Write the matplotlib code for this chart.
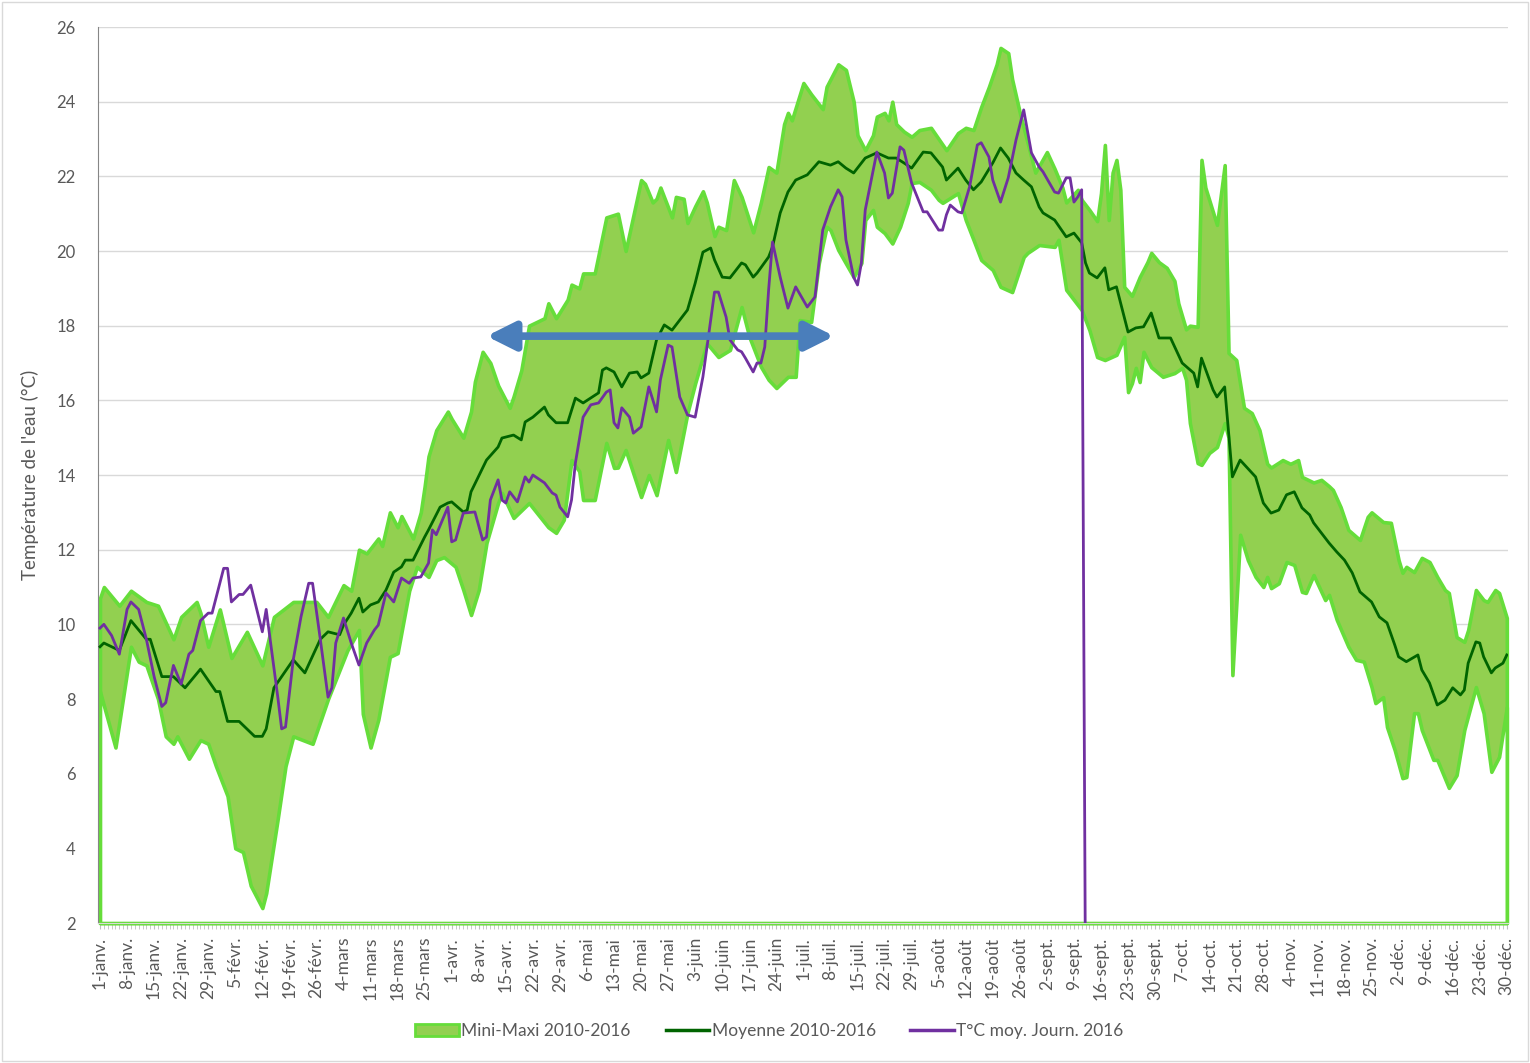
import matplotlib
matplotlib.use("Agg")
import matplotlib.pyplot as plt
from matplotlib.patches import Patch, Rectangle, FancyArrowPatch
from matplotlib.lines import Line2D
from matplotlib.ticker import MultipleLocator

# day of year (0 = 1 janv. 2016), temperature in °C
max_pts = [
    (0, 10.7), (1, 11.0), (5, 10.5), (8, 10.9), (12, 10.6), (15, 10.5), (19, 9.6), (21, 10.2),
    (25, 10.6), (26, 10.3), (28, 9.4), (31, 10.4), (34, 9.1), (38, 9.8), (42, 8.9), (45, 10.2),
    (50, 10.6), (56, 10.6), (59, 10.2), (63, 11.05), (65, 10.9), (67, 12.0), (69, 11.9), (72, 12.3),
    (73, 12.1), (75, 13.0), (77, 12.6), (78, 12.9), (81, 12.3), (83, 13.0), (84, 13.7), (85, 14.5),
    (87, 15.2), (90, 15.7), (91, 15.5), (94, 15.0), (96, 15.7), (97, 16.5), (99, 17.3), (101, 17.0),
    (103, 16.4), (106, 15.8), (107, 16.1), (109, 16.8), (111, 18.0), (113, 18.1), (115, 18.2),
    (116, 18.6), (118, 18.2), (121, 18.7), (122, 19.1), (124, 19.0), (125, 19.4), (128, 19.4),
    (131, 20.9), (134, 21.0), (136, 20.0), (140, 21.9), (141, 21.8), (143, 21.3), (144, 21.4),
    (145, 21.7), (148, 20.9), (149, 21.45), (151, 21.4), (152, 20.75), (154, 21.2), (156, 21.6),
    (157, 21.3), (159, 20.4), (160, 20.65), (162, 20.56), (164, 21.9), (166, 21.45), (169, 20.5),
    (171, 21.3), (173, 22.25), (175, 22.1), (177, 23.4), (178, 23.7), (179, 23.5), (182, 24.5),
    (184, 24.2), (187, 23.8), (188, 24.4), (191, 25.0), (193, 24.85), (195, 24.0), (196, 23.1),
    (198, 22.7), (200, 23.1), (201, 23.6), (203, 23.7), (204, 23.5), (205, 24.0), (206, 23.4),
    (208, 23.2), (210, 23.06), (212, 23.24), (215, 23.3), (217, 23.0), (219, 22.7), (222, 23.16),
    (224, 23.3), (226, 23.24), (228, 23.86), (230, 24.4), (232, 25.0), (233, 25.44), (235, 25.3),
    (236, 24.6), (238, 23.7), (240, 22.9), (242, 22.1), (245, 22.65), (247, 22.2), (249, 21.7),
    (250, 21.3), (253, 21.64), (254, 21.37), (256, 21.1), (258, 20.8), (259, 21.55), (260, 22.84),
    (261, 20.83), (262, 22.1), (263, 22.44), (264, 21.64), (265, 19.04), (267, 18.8), (269, 19.3),
    (271, 19.7), (272, 19.95), (274, 19.7), (276, 19.55), (278, 19.2), (279, 18.6), (281, 17.9),
    (282, 18.0), (284, 17.97), (285, 22.44), (286, 21.7), (289, 20.7), (291, 22.3), (292, 17.27),
    (294, 17.08), (296, 15.8), (298, 15.66), (300, 15.2), (302, 14.3), (303, 14.2), (306, 14.4),
    (308, 14.3), (310, 14.4), (311, 13.95), (314, 13.8), (316, 13.87), (318, 13.7), (319, 13.6),
    (321, 13.14), (323, 12.53), (326, 12.26), (328, 12.88), (329, 13.0), (332, 12.74), (334, 12.72),
    (336, 11.72), (337, 11.38), (338, 11.54), (340, 11.4), (342, 11.78), (344, 11.67), (346, 11.27),
    (348, 10.92), (349, 10.84), (351, 9.66), (353, 9.53), (354, 9.85), (356, 10.92), (358, 10.65),
    (359, 10.6), (361, 10.92), (362, 10.84), (364, 10.17),
]

min_pts = [
    (0, 8.2), (4, 6.7), (8, 9.4), (10, 9.0), (12, 8.9), (15, 8.0), (17, 7.0), (19, 6.8), (20, 7.0),
    (23, 6.4), (26, 6.9), (28, 6.8), (30, 6.2), (33, 5.4), (35, 4.0), (37, 3.9), (39, 3.0), (42, 2.4),
    (43, 2.8), (46, 4.8), (48, 6.2), (50, 7.0), (55, 6.8), (59, 8.0), (64, 9.3), (67, 9.85), (68, 7.6),
    (70, 6.7), (72, 7.44), (75, 9.13), (77, 9.23), (80, 10.9), (82, 11.54), (85, 11.27), (87, 11.72),
    (89, 11.8), (92, 11.54), (94, 10.92), (96, 10.25), (98, 10.92), (100, 12.18), (103, 13.25),
    (104, 13.52), (107, 12.85), (111, 13.25), (116, 12.6), (118, 12.45), (120, 12.8), (122, 14.4),
    (124, 14.1), (125, 13.33), (128, 13.33), (131, 14.86), (133, 14.19), (134, 14.2), (136, 14.67),
    (140, 13.41), (142, 14.0), (144, 13.46), (147, 14.94), (149, 14.08), (152, 15.66), (154, 16.46),
    (157, 17.53), (160, 17.16), (163, 17.35), (166, 18.5), (168, 17.7), (171, 16.9), (173, 16.55),
    (175, 16.33), (178, 16.63), (180, 16.63), (181, 18.15), (184, 18.1), (186, 19.68), (188, 20.65),
    (189, 20.56), (191, 20.03), (195, 19.3), (197, 19.68), (198, 20.83), (200, 21.1), (201, 20.65),
    (203, 20.48), (205, 20.2), (207, 20.65), (209, 21.29), (210, 21.82), (212, 21.85), (215, 21.64),
    (217, 21.37), (218, 21.29), (220, 21.42), (222, 21.55), (224, 20.83), (226, 20.3), (228, 19.76),
    (231, 19.49), (233, 19.04), (236, 18.9), (239, 19.84), (240, 19.95), (243, 20.16), (247, 20.11),
    (248, 20.3), (250, 18.96), (254, 18.42), (256, 17.88), (258, 17.16), (260, 17.08), (263, 17.22),
    (265, 17.7), (266, 16.22), (267, 16.46), (268, 16.87), (269, 16.49), (270, 17.3), (272, 16.89),
    (275, 16.63), (278, 16.73), (280, 16.87), (281, 16.55), (282, 15.39), (284, 14.32), (285, 14.27),
    (287, 14.59), (289, 14.75), (291, 15.39), (292, 15.0), (293, 8.64), (295, 12.4), (297, 11.72),
    (299, 11.27), (301, 11.0), (302, 11.27), (303, 10.97), (305, 11.1), (307, 11.67), (309, 11.59),
    (311, 10.87), (312, 10.84), (314, 11.32), (317, 10.65), (318, 10.79), (320, 10.12), (323, 9.4),
    (325, 9.05), (327, 9.0), (329, 8.32), (330, 7.89), (332, 8.05), (333, 7.25), (335, 6.63),
    (337, 5.88), (338, 5.91), (340, 7.62), (341, 7.62), (342, 7.17), (345, 6.37), (346, 6.37),
    (349, 5.62), (351, 5.96), (353, 7.17), (356, 8.32), (358, 7.62), (360, 6.05), (362, 6.45),
    (364, 7.78),
]

mean_pts = [
    (0, 9.4), (1, 9.5), (5, 9.3), (8, 10.1), (12, 9.6), (13, 9.6), (16, 8.6), (19, 8.6), (22, 8.3),
    (26, 8.8), (30, 8.2), (31, 8.2), (33, 7.4), (36, 7.4), (40, 7.0), (42, 7.0), (43, 7.2), (45, 8.3),
    (50, 9.05), (53, 8.7), (57, 9.6), (59, 9.8), (62, 9.72), (63, 9.98), (65, 10.3), (67, 10.7),
    (68, 10.33), (70, 10.52), (72, 10.6), (74, 10.92), (76, 11.4), (78, 11.54), (79, 11.72),
    (81, 11.72), (84, 12.34), (85, 12.53), (88, 13.14), (90, 13.25), (91, 13.28), (94, 13.01),
    (95, 13.06), (96, 13.55), (99, 14.19), (100, 14.4), (103, 14.75), (104, 14.99), (107, 15.07),
    (109, 14.94), (110, 15.42), (112, 15.55), (115, 15.82), (116, 15.61), (118, 15.4), (121, 15.4),
    (123, 16.06), (125, 15.93), (129, 16.2), (130, 16.81), (131, 16.87), (133, 16.76), (135, 16.36),
    (137, 16.73), (139, 16.76), (140, 16.6), (142, 16.73), (144, 17.62), (146, 18.02), (148, 17.88),
    (152, 18.42), (154, 19.14), (156, 19.97), (158, 20.08), (159, 19.76), (161, 19.3), (163, 19.28),
    (166, 19.68), (167, 19.63), (169, 19.3), (170, 19.41), (173, 19.84), (174, 20.11), (176, 21.02),
    (178, 21.58), (180, 21.9), (183, 22.04), (186, 22.39), (189, 22.3), (191, 22.39), (193, 22.22),
    (195, 22.09), (198, 22.49), (201, 22.63), (204, 22.49), (206, 22.49), (208, 22.36), (210, 22.22),
    (213, 22.65), (215, 22.63), (218, 22.25), (219, 21.9), (222, 22.22), (224, 21.9), (226, 21.64),
    (228, 21.85), (231, 22.36), (233, 22.76), (235, 22.49), (237, 22.09), (239, 21.9), (241, 21.72),
    (243, 21.18), (244, 21.02), (247, 20.83), (250, 20.38), (252, 20.48), (254, 20.22), (255, 19.68),
    (256, 19.41), (258, 19.28), (260, 19.55), (261, 18.96), (263, 19.04), (266, 17.83), (268, 17.94),
    (270, 17.97), (272, 18.34), (274, 17.67), (277, 17.67), (280, 17.0), (283, 16.73), (284, 16.36),
    (285, 17.13), (288, 16.28), (289, 16.09), (291, 16.36), (293, 13.95), (295, 14.4), (299, 13.95),
    (301, 13.25), (303, 12.98), (305, 13.06), (307, 13.47), (309, 13.55), (311, 13.12), (313, 12.93),
    (314, 12.72), (316, 12.45), (318, 12.18), (320, 11.94), (322, 11.72), (324, 11.38), (326, 10.87),
    (329, 10.6), (331, 10.2), (333, 10.04), (335, 9.45), (336, 9.13), (338, 9.0), (341, 9.18),
    (342, 8.78), (344, 8.43), (346, 7.84), (348, 7.97), (350, 8.3), (352, 8.11), (353, 8.24),
    (354, 8.96), (356, 9.53), (357, 9.5), (358, 9.13), (360, 8.7), (361, 8.83), (363, 8.96),
    (364, 9.18),
]

t2016_pts = [
    (0, 9.9), (1, 10.0), (3, 9.7), (5, 9.2), (7, 10.4), (8, 10.6), (10, 10.4), (12, 9.6), (14, 8.6),
    (16, 7.8), (17, 7.9), (19, 8.9), (21, 8.4), (23, 9.2), (24, 9.3), (26, 10.1), (28, 10.3),
    (29, 10.3), (32, 11.5), (33, 11.5), (34, 10.6), (36, 10.8), (37, 10.8), (39, 11.05), (42, 9.8),
    (43, 10.4), (46, 8.05), (47, 7.2), (48, 7.25), (50, 9.05), (52, 10.2), (54, 11.1), (55, 11.1),
    (57, 9.6), (59, 8.05), (60, 8.3), (61, 9.5), (63, 10.17), (65, 9.5), (67, 8.91), (69, 9.5),
    (71, 9.85), (72, 9.98), (74, 10.84), (76, 10.6), (78, 11.24), (80, 11.1), (81, 11.24),
    (83, 11.27), (85, 11.64), (86, 12.53), (87, 12.4), (90, 13.14), (91, 12.21), (92, 12.26),
    (94, 12.98), (97, 13.01), (99, 12.26), (100, 12.34), (101, 13.33), (103, 13.87), (104, 13.33),
    (105, 13.25), (106, 13.55), (108, 13.28), (110, 13.95), (111, 13.81), (112, 14.0), (115, 13.79),
    (117, 13.52), (118, 13.46), (119, 13.14), (121, 12.88), (122, 13.33), (123, 14.32), (125, 15.55),
    (127, 15.88), (129, 15.93), (131, 16.22), (132, 16.28), (133, 15.4), (134, 15.26), (135, 15.8),
    (137, 15.55), (138, 15.12), (140, 15.29), (142, 16.36), (144, 15.69), (145, 16.55), (147, 17.48),
    (148, 17.43), (150, 16.09), (152, 15.61), (154, 15.55), (156, 16.63), (158, 18.15), (159, 18.9),
    (160, 18.9), (162, 18.23), (163, 17.62), (165, 17.35), (166, 17.3), (167, 17.13), (169, 16.76),
    (170, 17.0), (171, 17.0), (172, 17.43), (173, 18.96), (174, 20.24), (176, 19.3), (178, 18.47),
    (180, 19.04), (183, 18.5), (185, 18.77), (187, 20.56), (189, 21.18), (191, 21.64), (192, 21.45),
    (193, 20.3), (195, 19.3), (196, 19.09), (197, 19.68), (198, 21.1), (201, 22.65), (203, 22.09),
    (204, 21.42), (205, 21.55), (207, 22.79), (208, 22.7), (210, 21.82), (213, 21.05), (214, 21.05),
    (217, 20.56), (218, 20.56), (219, 20.97), (220, 21.23), (222, 21.05), (223, 21.02), (225, 21.72),
    (227, 22.84), (228, 22.9), (230, 22.52), (231, 21.9), (233, 21.31), (235, 21.96), (237, 22.97),
    (239, 23.78), (241, 22.63), (243, 22.25), (244, 22.12), (247, 21.58), (248, 21.55), (250, 21.96),
    (251, 21.96), (252, 21.31), (253, 21.45), (254, 21.64), (255, 0.0),
]

tick_labels = [
    "1-janv.", "8-janv.", "15-janv.", "22-janv.", "29-janv.", "5-févr.", "12-févr.", "19-févr.",
    "26-févr.", "4-mars", "11-mars", "18-mars", "25-mars", "1-avr.", "8-avr.", "15-avr.", "22-avr.",
    "29-avr.", "6-mai", "13-mai", "20-mai", "27-mai", "3-juin", "10-juin", "17-juin", "24-juin",
    "1-juil.", "8-juil.", "15-juil.", "22-juil.", "29-juil.", "5-août", "12-août", "19-août",
    "26-août", "2-sept.", "9-sept.", "16-sept.", "23-sept.", "30-sept.", "7-oct.", "14-oct.",
    "21-oct.", "28-oct.", "4-nov.", "11-nov.", "18-nov.", "25-nov.", "2-déc.", "9-déc.", "16-déc.",
    "23-déc.", "30-déc.",
]

plt.rcParams["font.family"] = ["Lato", "DejaVu Sans"]
txt = "#595959"
fill_green = "#92D050"
edge_green = "#66DD3A"
dark_green = "#006400"
purple = "#7030A0"

fig = plt.figure(figsize=(15.3, 10.63), dpi=100)
ax = fig.add_axes([0.0641, 0.1317, 0.9215, 0.8429])

max_d, max_v = zip(*max_pts)
min_d, min_v = zip(*min_pts)
mean_d, mean_v = zip(*mean_pts)
t_d, t_v = zip(*t2016_pts)

ax.fill_between(max_d, max_v, 2, facecolor=fill_green, edgecolor=edge_green,
                linewidth=2.6, zorder=1, clip_on=False)
ax.fill_between(min_d, min_v, 2, facecolor="white", edgecolor=edge_green,
                linewidth=2.6, zorder=2, clip_on=False)
ax.plot(mean_d, mean_v, color=dark_green, linewidth=2.0, zorder=3)
ax.plot(t_d, t_v, color=purple, linewidth=2.0, zorder=4)

# double arrow
arrow = FancyArrowPatch((100, 17.72), (190, 17.72),
                        arrowstyle="<|-|>,head_length=17,head_width=8.5",
                        mutation_scale=1, shrinkA=0, shrinkB=0,
                        linewidth=5.5, color="#4A7EBB", zorder=5)
ax.add_patch(arrow)

ax.set_xlim(-0.5, 364.3)
ax.set_ylim(2, 26)
ax.set_yticks(range(2, 27, 2))
ax.set_xticks(range(0, 365, 7))
ax.set_xticklabels(tick_labels, rotation=90, fontsize=12.5, color=txt)
ax.xaxis.set_minor_locator(MultipleLocator(1))
ax.tick_params(axis="x", which="both", length=4, color="#bfbfbf", pad=6)
ax.tick_params(axis="y", length=0, labelsize=12, labelcolor=txt, pad=16)

ax.set_axisbelow(True)
ax.grid(axis="y", color="#d9d9d9", linewidth=1.0)
for s in ["top", "right"]:
    ax.spines[s].set_visible(False)
ax.spines["left"].set_color("#868686")
ax.spines["bottom"].set_color("#d9d9d9")

fig.text(0.0196, 0.553, "Température de l'eau (°C)", rotation=90, va="center", ha="center",
         fontsize=13.5, color=txt)

handles = [
    Patch(facecolor=fill_green, edgecolor=edge_green, linewidth=2),
    Line2D([], [], color=dark_green, linewidth=2.5),
    Line2D([], [], color=purple, linewidth=2.5),
]
labels = ["Mini-Maxi 2010-2016", "Moyenne 2010-2016", "T°C moy. Journ. 2016"]
fig.legend(handles, labels, loc="center", bbox_to_anchor=(0.503, 0.030), ncol=3,
           frameon=False, fontsize=12.5, labelcolor=txt, handlelength=2.5,
           handletextpad=0.15, columnspacing=2.0)

fig.add_artist(Rectangle((0.0015, 0.002), 0.997, 0.996, transform=fig.transFigure,
                         fill=False, edgecolor="#d9d9d9", linewidth=1))

fig.savefig("out.png", dpi=100)
